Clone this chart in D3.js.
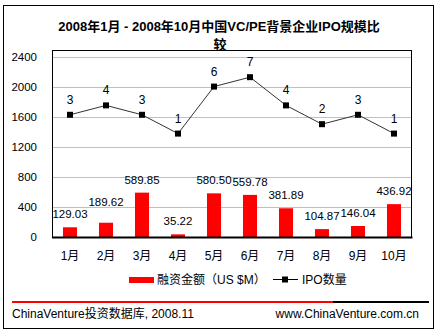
<!DOCTYPE html>
<html>
<head>
<meta charset="utf-8">
<script src="https://cdn.jsdelivr.net/npm/d3@7/dist/d3.min.js"></script>
<style>
  html, body { margin: 0; padding: 0; background: #fff; }
  svg { display: block; }
  text { font-family: "Liberation Sans", Arial, "Noto Sans CJK SC", sans-serif; fill: #000; }
</style>
</head>
<body>
<svg id="chart" width="438" height="331"></svg>
<script>
// Monthly VC/PE-backed IPO financing (US$M) and number of IPOs, Jan–Oct 2008
const months = ["1月", "2月", "3月", "4月", "5月", "6月", "7月", "8月", "9月", "10月"];
const amounts = [129.03, 189.62, 589.85, 35.22, 580.50, 559.78, 381.89, 104.87, 146.04, 436.92];
const counts = [3, 4, 3, 1, 6, 7, 4, 2, 3, 1];
const yTicks = [0, 400, 800, 1200, 1600, 2000, 2400];

const svg = d3.select("#chart");
const plot = { left: 52, right: 412, top: 50, bottom: 237 };

// Outer frame
svg.append("rect")
  .attr("x", 3.5).attr("y", 5.5).attr("width", 430).attr("height", 323)
  .attr("fill", "none").attr("stroke", "#000").attr("stroke-width", 1);

// Title
const title = svg.append("text")
  .attr("text-anchor", "middle")
  .style("font-weight", "bold").style("font-size", "13px");
title.append("tspan").attr("x", 219).attr("y", 31).text("2008年1月 - 2008年10月中国VC/PE背景企业IPO规模比");
title.append("tspan").attr("x", 220).attr("y", 49).text("较");

// Scales
const x = d3.scaleBand().domain(months).range([plot.left, plot.right]).padding(0);
const cx = m => x(m) + x.bandwidth() / 2;
const y = d3.scaleLinear().domain([0, 2400]).range([plot.bottom, 56.5]);
// IPO counts sit on a hidden secondary axis
const yCount = d3.scaleLinear().domain([-10, 9.2]).range([plot.bottom, 56.5]);

// Gridlines
svg.append("g")
  .selectAll("line")
  .data(yTicks.filter(d => d > 0))
  .join("line")
  .attr("x1", plot.left).attr("x2", plot.right)
  .attr("y1", d => Math.round(y(d)) + 0.5).attr("y2", d => Math.round(y(d)) + 0.5)
  .attr("stroke", "#c0c0c0").attr("stroke-width", 1);

// Left axis labels
const yAxis = svg.append("g")
  .attr("transform", `translate(${plot.left},0)`)
  .call(d3.axisLeft(y).tickValues(yTicks).tickFormat(d3.format("d")).tickSize(0).tickPadding(15));
yAxis.select(".domain").remove();
yAxis.selectAll("text").style("font-size", "11.5px").attr("fill", "#000");

// Bars
const barW = x.bandwidth() * 0.39;
svg.append("g")
  .selectAll("rect")
  .data(amounts)
  .join("rect")
  .attr("x", (d, i) => cx(months[i]) - barW / 2)
  .attr("y", d => y(d))
  .attr("width", barW)
  .attr("height", d => plot.bottom - y(d))
  .attr("fill", "#ff0000");

// Plot frame
svg.append("rect")
  .attr("x", plot.left + 0.5).attr("y", plot.top + 0.5)
  .attr("width", plot.right - plot.left - 1).attr("height", plot.bottom - plot.top)
  .attr("fill", "none").attr("stroke", "#000").attr("stroke-width", 1);
svg.append("line")
  .attr("x1", plot.left).attr("x2", plot.right + 0.5)
  .attr("y1", plot.bottom + 0.5).attr("y2", plot.bottom + 0.5)
  .attr("stroke", "#000").attr("stroke-width", 2);

// Bar value labels (the February label is lifted to clear the January one)
const labelLift = i => (i === 1 ? 8 : 0);
svg.append("g")
  .selectAll("text")
  .data(amounts)
  .join("text")
  .attr("x", (d, i) => cx(months[i]))
  .attr("y", (d, i) => y(d) - 9 - labelLift(i))
  .attr("text-anchor", "middle")
  .style("font-size", "11.5px")
  .text(d => d.toFixed(2));

// IPO count line
const line = d3.line()
  .x((d, i) => cx(months[i]))
  .y(d => yCount(d));
svg.append("path")
  .datum(counts)
  .attr("d", line)
  .attr("fill", "none").attr("stroke", "#333").attr("stroke-width", 1);

svg.append("g")
  .selectAll("rect")
  .data(counts)
  .join("rect")
  .attr("x", (d, i) => cx(months[i]) - 3)
  .attr("y", d => yCount(d) - 3)
  .attr("width", 6).attr("height", 6)
  .attr("fill", "#000");

svg.append("g")
  .selectAll("text")
  .data(counts)
  .join("text")
  .attr("x", (d, i) => cx(months[i]))
  .attr("y", d => yCount(d) - 11)
  .attr("text-anchor", "middle")
  .style("font-size", "12px")
  .text(d => d);

// Month labels
const xAxis = svg.append("g")
  .attr("transform", `translate(0,${plot.bottom})`)
  .call(d3.axisBottom(x).tickSize(0).tickPadding(14));
xAxis.select(".domain").remove();
xAxis.selectAll("text").style("font-size", "12px").attr("fill", "#000");

// Legend
const legend = svg.append("g");
legend.append("rect")
  .attr("x", 129).attr("y", 277).attr("width", 25).attr("height", 6)
  .attr("fill", "#ff0000");
legend.append("text")
  .attr("x", 157).attr("y", 284)
  .style("font-size", "12px")
  .text("融资金额（US $M）");
legend.append("line")
  .attr("x1", 273).attr("x2", 298).attr("y1", 279.5).attr("y2", 279.5)
  .attr("stroke", "#000").attr("stroke-width", 1);
legend.append("rect")
  .attr("x", 282).attr("y", 276.5).attr("width", 6).attr("height", 6)
  .attr("fill", "#000");
legend.append("text")
  .attr("x", 302).attr("y", 284)
  .style("font-size", "12px")
  .text("IPO数量");

// Footer rule and credits
svg.append("line")
  .attr("x1", 12).attr("x2", 333).attr("y1", 302).attr("y2", 302)
  .attr("stroke", "#ff0000").attr("stroke-width", 2);
svg.append("line")
  .attr("x1", 333).attr("x2", 429).attr("y1", 302).attr("y2", 302)
  .attr("stroke", "#000").attr("stroke-width", 2);
svg.append("text")
  .attr("x", 12).attr("y", 318)
  .style("font-size", "12px")
  .text("ChinaVenture投资数据库, 2008.11");
svg.append("text")
  .attr("x", 419).attr("y", 318)
  .attr("text-anchor", "end")
  .style("font-size", "12px")
  .text("www.ChinaVenture.com.cn");
</script>
</body>
</html>
